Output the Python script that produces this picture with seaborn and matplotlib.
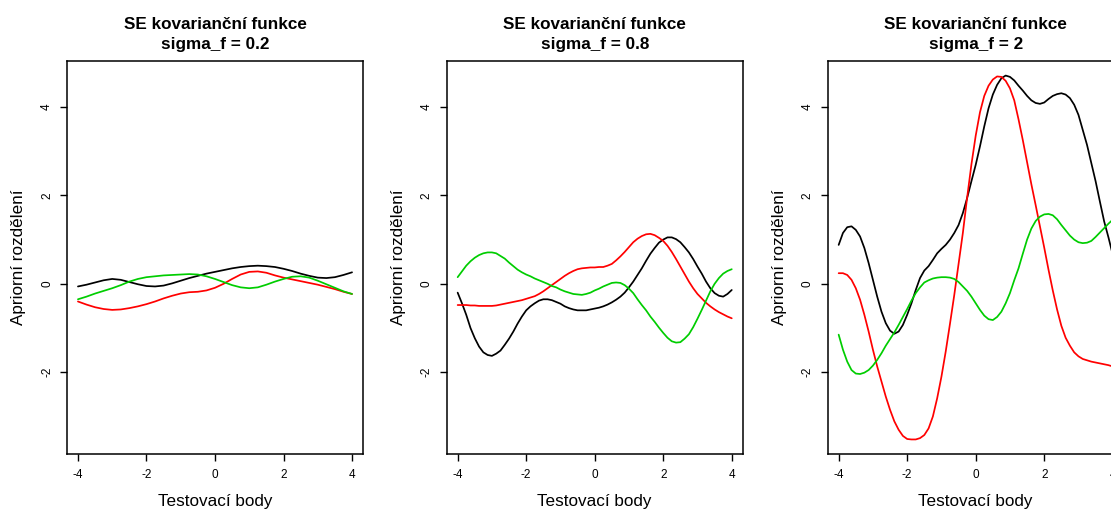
import numpy as np
import pandas as pd
import matplotlib
matplotlib.use("Agg")
import matplotlib.pyplot as plt
import seaborn as sns

# Test points (coarse grid for the smooth low-variance samples, fine grid otherwise)
x_coarse = [-4.0, -3.75, -3.5, -3.25, -3.0, -2.75, -2.5, -2.25, -2.0, -1.75, -1.5,
            -1.25, -1.0, -0.75, -0.5, -0.25, 0.0, 0.25, 0.5, 0.75, 1.0, 1.25,
            1.5, 1.75, 2.0, 2.25, 2.5, 2.75, 3.0, 3.25, 3.5, 3.75, 4.0]
x_fine = [-4.0, -3.875, -3.75, -3.625, -3.5, -3.375, -3.25, -3.125,
          -3.0, -2.875, -2.75, -2.625, -2.5, -2.375, -2.25, -2.125,
          -2.0, -1.875, -1.75, -1.625, -1.5, -1.375, -1.25, -1.125,
          -1.0, -0.875, -0.75, -0.625, -0.5, -0.375, -0.25, -0.125,
          0.0, 0.125, 0.25, 0.375, 0.5, 0.625, 0.75, 0.875,
          1.0, 1.125, 1.25, 1.375, 1.5, 1.625, 1.75, 1.875,
          2.0, 2.125, 2.25, 2.375, 2.5, 2.625, 2.75, 2.875,
          3.0, 3.125, 3.25, 3.375, 3.5, 3.625, 3.75, 3.875, 4.0]

sigma_values = ["0.2", "0.8", "2"]
sample_names = ["s1", "s2", "s3"]
sample_colors = ["#000000", "#FF0000", "#00CD00"]

# sigma_f = 0.2
p1_black = [-0.06, -0.02, 0.03, 0.08, 0.11, 0.09, 0.04, -0.01, -0.05, -0.06, -0.04,
            0.01, 0.07, 0.13, 0.18, 0.23, 0.27, 0.31, 0.35, 0.38, 0.40, 0.41,
            0.40, 0.38, 0.34, 0.29, 0.23, 0.18, 0.14, 0.13, 0.15, 0.20, 0.26]
p1_red = [-0.40, -0.47, -0.53, -0.57, -0.59, -0.58, -0.55, -0.51, -0.46, -0.40, -0.33,
          -0.27, -0.22, -0.19, -0.18, -0.15, -0.09, 0.00, 0.11, 0.21, 0.27, 0.28,
          0.25, 0.19, 0.14, 0.10, 0.06, 0.02, -0.02, -0.07, -0.12, -0.18, -0.23]
p1_green = [-0.35, -0.29, -0.22, -0.16, -0.10, -0.03, 0.05, 0.11, 0.15, 0.17, 0.19,
            0.20, 0.21, 0.22, 0.21, 0.17, 0.11, 0.04, -0.03, -0.08, -0.10, -0.08,
            -0.02, 0.05, 0.11, 0.16, 0.17, 0.14, 0.07, -0.01, -0.09, -0.17, -0.23]

# sigma_f = 0.8
p2_black = [-0.20, -0.44, -0.70, -1.00, -1.23, -1.42, -1.55, -1.61,
            -1.63, -1.58, -1.51, -1.38, -1.24, -1.08, -0.90, -0.74,
            -0.60, -0.51, -0.44, -0.38, -0.35, -0.35, -0.37, -0.41,
            -0.45, -0.51, -0.55, -0.58, -0.60, -0.60, -0.60, -0.58,
            -0.56, -0.54, -0.51, -0.47, -0.42, -0.36, -0.29, -0.20,
            -0.08, 0.05, 0.20, 0.35, 0.52, 0.68, 0.81, 0.93,
            1.00, 1.05, 1.05, 1.01, 0.94, 0.83, 0.71, 0.56,
            0.39, 0.23, 0.05, -0.10, -0.21, -0.27, -0.29, -0.23, -0.14]
p2_red = [-0.48, -0.48, -0.48, -0.49, -0.49, -0.50, -0.50, -0.50,
          -0.50, -0.49, -0.47, -0.45, -0.43, -0.41, -0.39, -0.37,
          -0.34, -0.31, -0.28, -0.23, -0.17, -0.10, -0.03, 0.04,
          0.11, 0.18, 0.24, 0.29, 0.33, 0.35, 0.36, 0.37,
          0.37, 0.38, 0.38, 0.41, 0.45, 0.53, 0.62, 0.72,
          0.83, 0.94, 1.02, 1.08, 1.12, 1.13, 1.10, 1.04,
          0.97, 0.86, 0.72, 0.56, 0.39, 0.22, 0.05, -0.10,
          -0.23, -0.33, -0.43, -0.51, -0.58, -0.64, -0.69, -0.74, -0.78]
p2_green = [0.15, 0.28, 0.41, 0.51, 0.59, 0.65, 0.69, 0.71,
            0.71, 0.69, 0.63, 0.57, 0.48, 0.40, 0.32, 0.26,
            0.21, 0.17, 0.12, 0.08, 0.04, 0.00, -0.05, -0.08,
            -0.13, -0.17, -0.20, -0.23, -0.24, -0.25, -0.23, -0.20,
            -0.15, -0.11, -0.06, -0.02, 0.02, 0.03, 0.02, -0.03,
            -0.11, -0.21, -0.35, -0.48, -0.60, -0.74, -0.86, -0.99,
            -1.11, -1.22, -1.30, -1.33, -1.32, -1.24, -1.14, -0.98,
            -0.79, -0.59, -0.38, -0.17, 0.00, 0.13, 0.23, 0.29, 0.33]

# sigma_f = 2
p3_black = [0.88, 1.15, 1.28, 1.30, 1.22, 1.07, 0.81, 0.47,
            0.09, -0.29, -0.63, -0.89, -1.06, -1.13, -1.08, -0.93,
            -0.70, -0.44, -0.14, 0.13, 0.30, 0.40, 0.54, 0.69,
            0.79, 0.88, 1.00, 1.15, 1.33, 1.60, 1.94, 2.32,
            2.69, 3.11, 3.56, 3.97, 4.28, 4.50, 4.65, 4.71,
            4.68, 4.60, 4.48, 4.37, 4.25, 4.15, 4.09, 4.07,
            4.10, 4.18, 4.25, 4.29, 4.31, 4.28, 4.20, 4.05,
            3.82, 3.48, 3.14, 2.73, 2.32, 1.86, 1.41, 1.05, 0.66]
p3_red = [0.24, 0.24, 0.20, 0.09, -0.10, -0.36, -0.70, -1.08,
          -1.49, -1.87, -2.21, -2.55, -2.85, -3.11, -3.30, -3.44,
          -3.51, -3.52, -3.52, -3.49, -3.42, -3.27, -3.00, -2.59,
          -2.10, -1.53, -0.90, -0.25, 0.45, 1.15, 1.95, 2.70,
          3.35, 3.88, 4.25, 4.48, 4.62, 4.69, 4.68, 4.59,
          4.42, 4.15, 3.72, 3.25, 2.75, 2.25, 1.78, 1.30,
          0.82, 0.32, -0.15, -0.58, -0.95, -1.22, -1.40, -1.55,
          -1.64, -1.70, -1.73, -1.76, -1.78, -1.80, -1.82, -1.84, -1.87]
p3_green = [-1.15, -1.49, -1.76, -1.95, -2.03, -2.04, -2.01, -1.95,
            -1.85, -1.72, -1.57, -1.40, -1.25, -1.10, -0.93, -0.75,
            -0.57, -0.38, -0.21, -0.08, 0.03, 0.08, 0.12, 0.14,
            0.15, 0.15, 0.14, 0.11, 0.04, -0.06, -0.16, -0.29,
            -0.44, -0.59, -0.72, -0.80, -0.82, -0.75, -0.63, -0.44,
            -0.21, 0.08, 0.35, 0.68, 1.00, 1.25, 1.42, 1.52,
            1.57, 1.58, 1.55, 1.46, 1.33, 1.21, 1.09, 1.00,
            0.94, 0.92, 0.93, 0.97, 1.06, 1.16, 1.26, 1.36, 1.45]

panels = [
    (x_coarse, (p1_black, p1_red, p1_green)),
    (x_fine, (p2_black, p2_red, p2_green)),
    (x_fine, (p3_black, p3_red, p3_green)),
]

x_ticks = [-4, -2, 0, 2, 4]
y_ticks = [-2, 0, 2, 4]

sns.set_style("white")
plt.rcParams["font.family"] = ["Liberation Sans", "DejaVu Sans"]
plt.rcParams["axes.unicode_minus"] = False
plt.rcParams["text.color"] = "black"

W, H = 1111, 509
fig = plt.figure(figsize=(W / 100, H / 100), dpi=100)

ax_w, ax_top, ax_bottom = 296.0, 61.0, 454.0
ax_h = ax_bottom - ax_top
lefts = [67.0, 446.7, 827.7]

all_vals = np.concatenate([np.asarray(v) for _, trio in panels for v in trio])
ymin, ymax = all_vals.min(), all_vals.max()
ypad = 0.04 * (ymax - ymin)
xpad = 0.04 * (max(x_fine) - min(x_fine))

for left, sig, (xs, trio) in zip(lefts, sigma_values, panels):
    ax = fig.add_axes([left / W, (H - ax_bottom) / H, ax_w / W, ax_h / H])
    frames = []
    for name, vals in zip(sample_names, trio):
        frames.append(pd.DataFrame({"x": xs, "y": vals, "sample": name}))
    df = pd.concat(frames, ignore_index=True)
    sns.lineplot(data=df, x="x", y="y", hue="sample", hue_order=sample_names,
                 palette=sample_colors, estimator=None, sort=False,
                 linewidth=1.25, legend=False, ax=ax)

    ax.set_xlim(min(xs) - xpad, max(xs) + xpad)
    ax.set_ylim(ymin - ypad, ymax + ypad)
    ax.set_xticks(x_ticks)
    ax.set_xticklabels([str(t) for t in x_ticks])
    ax.set_yticks(y_ticks)
    ax.set_yticklabels([str(t) for t in y_ticks], rotation=90, va="center")
    ax.tick_params(axis="both", direction="out", length=5, width=1.0,
                   color="black", labelsize=8.5, labelcolor="black",
                   bottom=True, left=True, top=False, right=False)
    ax.tick_params(axis="x", pad=5.5)
    ax.tick_params(axis="y", pad=5.0)
    for sp in ax.spines.values():
        sp.set_visible(True)
        sp.set_color("black")
        sp.set_linewidth(1.1)

    ax.set_xlabel("")
    ax.set_ylabel("")
    ax.text(0.5, -(506 - ax_bottom) / ax_h, "Testovací body",
            transform=ax.transAxes, ha="center", va="baseline", fontsize=12.3,
            color="black")
    ax.text((18.5 - 67.0) / ax_w, 0.5, "Apriorní rozdělení",
            transform=ax.transAxes, ha="center", va="center", rotation=90,
            fontsize=12.3, color="black")
    ax.text(0.5, 1 + (ax_top - 29.3) / ax_h, "SE kovarianční funkce",
            transform=ax.transAxes, ha="center", va="baseline", fontsize=12.3,
            fontweight="bold", color="black")
    ax.text(0.5, 1 + (ax_top - 49.3) / ax_h, f"sigma_f = {sig}",
            transform=ax.transAxes, ha="center", va="baseline", fontsize=12.3,
            fontweight="bold", color="black")

fig.savefig("out.png", dpi=100, facecolor="white")
